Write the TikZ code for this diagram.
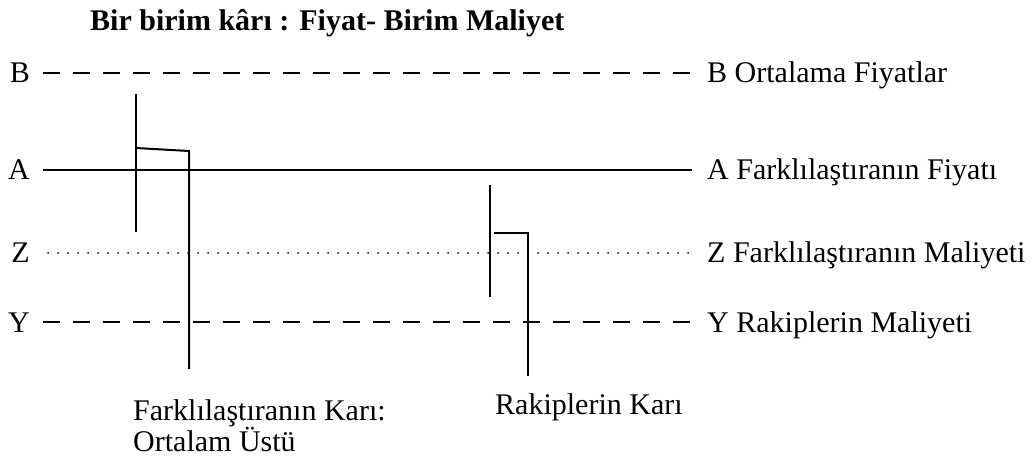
\documentclass[tikz,border=0pt]{standalone}
\usepackage{fontspec}
\setmainfont{Liberation Serif}
\begin{document}
\begin{tikzpicture}[x=1pt,y=-1pt,
  lbl/.style={inner sep=0pt,font=\fontsize{30}{31}\selectfont},
  ttl/.style={inner sep=0pt,font=\fontsize{30}{31}\selectfont\bfseries},
  dashln/.style={line width=2pt,dash pattern=on 17pt off 13pt},
  dotln/.style={line width=2pt,line cap=round,dash pattern=on 0pt off 10pt},
  solidln/.style={line width=2pt},
  brk/.style={line width=2pt}]
\useasboundingbox (0,0) rectangle (1033,462);
% title
\node[ttl,anchor=base west] (title) at (90,31) {Bir birim kârı : Fiyat- Birim Maliyet};
% left letters
\node[lbl,anchor=base east] (lB) at (30,83) {B};
\node[lbl,anchor=base east] (lA) at (30,180) {A};
\node[lbl,anchor=base east] (lZ) at (30,263) {Z};
\node[lbl,anchor=base east] (lY) at (30,332) {Y};
% right labels
\node[lbl,anchor=base west] (rB) at (707,83) {B Ortalama Fiyatlar};
\node[lbl,anchor=base west] (rA) at (707,180) {A Farklılaştıranın Fiyatı};
\node[lbl,anchor=base west] (rZ) at (707,263) {Z Farklılaştıranın Maliyeti};
\node[lbl,anchor=base west] (rY) at (707,332) {Y Rakiplerin Maliyeti};
% line ends
\coordinate (B0) at (43,73);  \coordinate (B1) at (692,73);
\coordinate (A0) at (43,170); \coordinate (A1) at (692,170);
\coordinate (Z0) at (48,253); \coordinate (Z1) at (690,253);
\coordinate (Y0) at (43,322); \coordinate (Y1) at (692,322);
\draw[dashln] (B0) -- (B1);
\draw[solidln] (A0) -- (A1);
\draw[dotln] (Z0) -- (Z1);
\draw[dashln] (Y0) -- (Y1);
% left bracket
\coordinate (p1) at (136,94);  \coordinate (p2) at (136,232);
\coordinate (p3) at (136,148); \coordinate (p4) at (189,151); \coordinate (p5) at (189,369);
\draw[brk] (p1) -- (p2);
\draw[brk] (p3) -- (p4) -- (p5);
% right bracket
\coordinate (q1) at (490,185); \coordinate (q2) at (490,297);
\coordinate (q3) at (494,233); \coordinate (q4) at (528,233); \coordinate (q5) at (528,376);
\draw[brk] (q1) -- (q2);
\draw[brk] (q3) -- (q4) -- (q5);
% bottom labels
\node[lbl,anchor=base west,align=left] (fk) at (133,420) {Farklılaştıranın Karı:};
\node[lbl,anchor=base west] (ou) at (133,451) {Ortalam Üstü};
\node[lbl,anchor=base west] (rk) at (495,414) {Rakiplerin Karı};
\end{tikzpicture}
\end{document}
